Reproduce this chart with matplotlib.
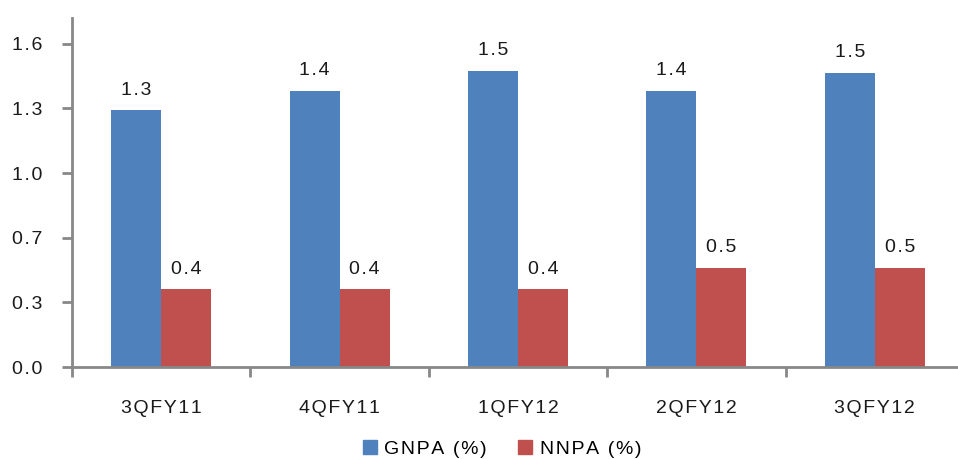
import matplotlib
matplotlib.use("Agg")
import matplotlib.pyplot as plt
import numpy as np
from matplotlib.patches import Patch

categories = ["3QFY11", "4QFY11", "1QFY12", "2QFY12", "3QFY12"]
gnpa = [1.29, 1.39, 1.49, 1.39, 1.48]
nnpa = [0.39, 0.39, 0.39, 0.50, 0.50]
gnpa_labels = ["1.3", "1.4", "1.5", "1.4", "1.5"]
nnpa_labels = ["0.4", "0.4", "0.4", "0.5", "0.5"]
yticks = [0, 0.325, 0.65, 0.975, 1.3, 1.625]
ytick_labels = ["0.0", "0.3", "0.7", "1.0", "1.3", "1.6"]
series_names = ["GNPA (%)", "NNPA (%)"]


def sp(s):
    return "\u200a".join(s)


plt.rcParams['font.family'] = ['Liberation Sans', 'DejaVu Sans']
W, H = 958, 459
fig = plt.figure(figsize=(W/100, H/100), dpi=100)
left, right, bottom, top = 72, 964, 367, 18
ax = fig.add_axes([left/W, 1 - bottom/H, (right-left)/W, (bottom-top)/H])

blue = "#4F81BD"
red = "#C0504D"
axc = "#888888"
tc = "#1a1a1a"
fs = 14
x = np.arange(len(categories))
bw = 0.28
b1 = ax.bar(x - bw/2, gnpa, bw, color=blue)
b2 = ax.bar(x + bw/2, nnpa, bw, color=red)

for rect, lab in zip(b1, gnpa_labels):
    ax.text(rect.get_x() + rect.get_width()/2, rect.get_height() + 0.058, sp(lab),
            ha='center', va='bottom', fontsize=fs, color=tc)
for rect, lab in zip(b2, nnpa_labels):
    ax.text(rect.get_x() + rect.get_width()/2, rect.get_height() + 0.058, sp(lab),
            ha='center', va='bottom', fontsize=fs, color=tc)

ax.set_xlim(-0.5, len(categories) - 0.5)
ax.set_ylim(0, 1.755)
ax.set_yticks(yticks)
ax.set_yticklabels([sp(t) for t in ytick_labels], fontsize=fs, color=tc)
ax.set_xticks(np.arange(-0.5, len(categories), 1.0))
ax.set_xticklabels([])
ax.set_xticks(x, minor=True)
ax.set_xticklabels([sp(c) for c in categories], minor=True, fontsize=fs, color=tc)
ax.tick_params(axis='x', which='minor', length=0, pad=24)
ax.tick_params(axis='x', which='major', length=7, width=2, color=axc, direction='out')
ax.tick_params(axis='y', length=7, width=2, color=axc, direction='out', pad=14)

for s in ['top', 'right']:
    ax.spines[s].set_visible(False)
for s in ['left', 'bottom']:
    ax.spines[s].set_color(axc)
    ax.spines[s].set_linewidth(2)

handles = [Patch(color=blue, label=sp(series_names[0])),
           Patch(color=red, label=sp(series_names[1]))]
fig.legend(handles=handles, loc='center', bbox_to_anchor=(502/W, 1 - 449/H),
           ncol=2, frameon=False, fontsize=fs, handlelength=0.7, handleheight=0.7,
           handletextpad=0.4, columnspacing=1.6)

fig.savefig("out.png", dpi=100)
